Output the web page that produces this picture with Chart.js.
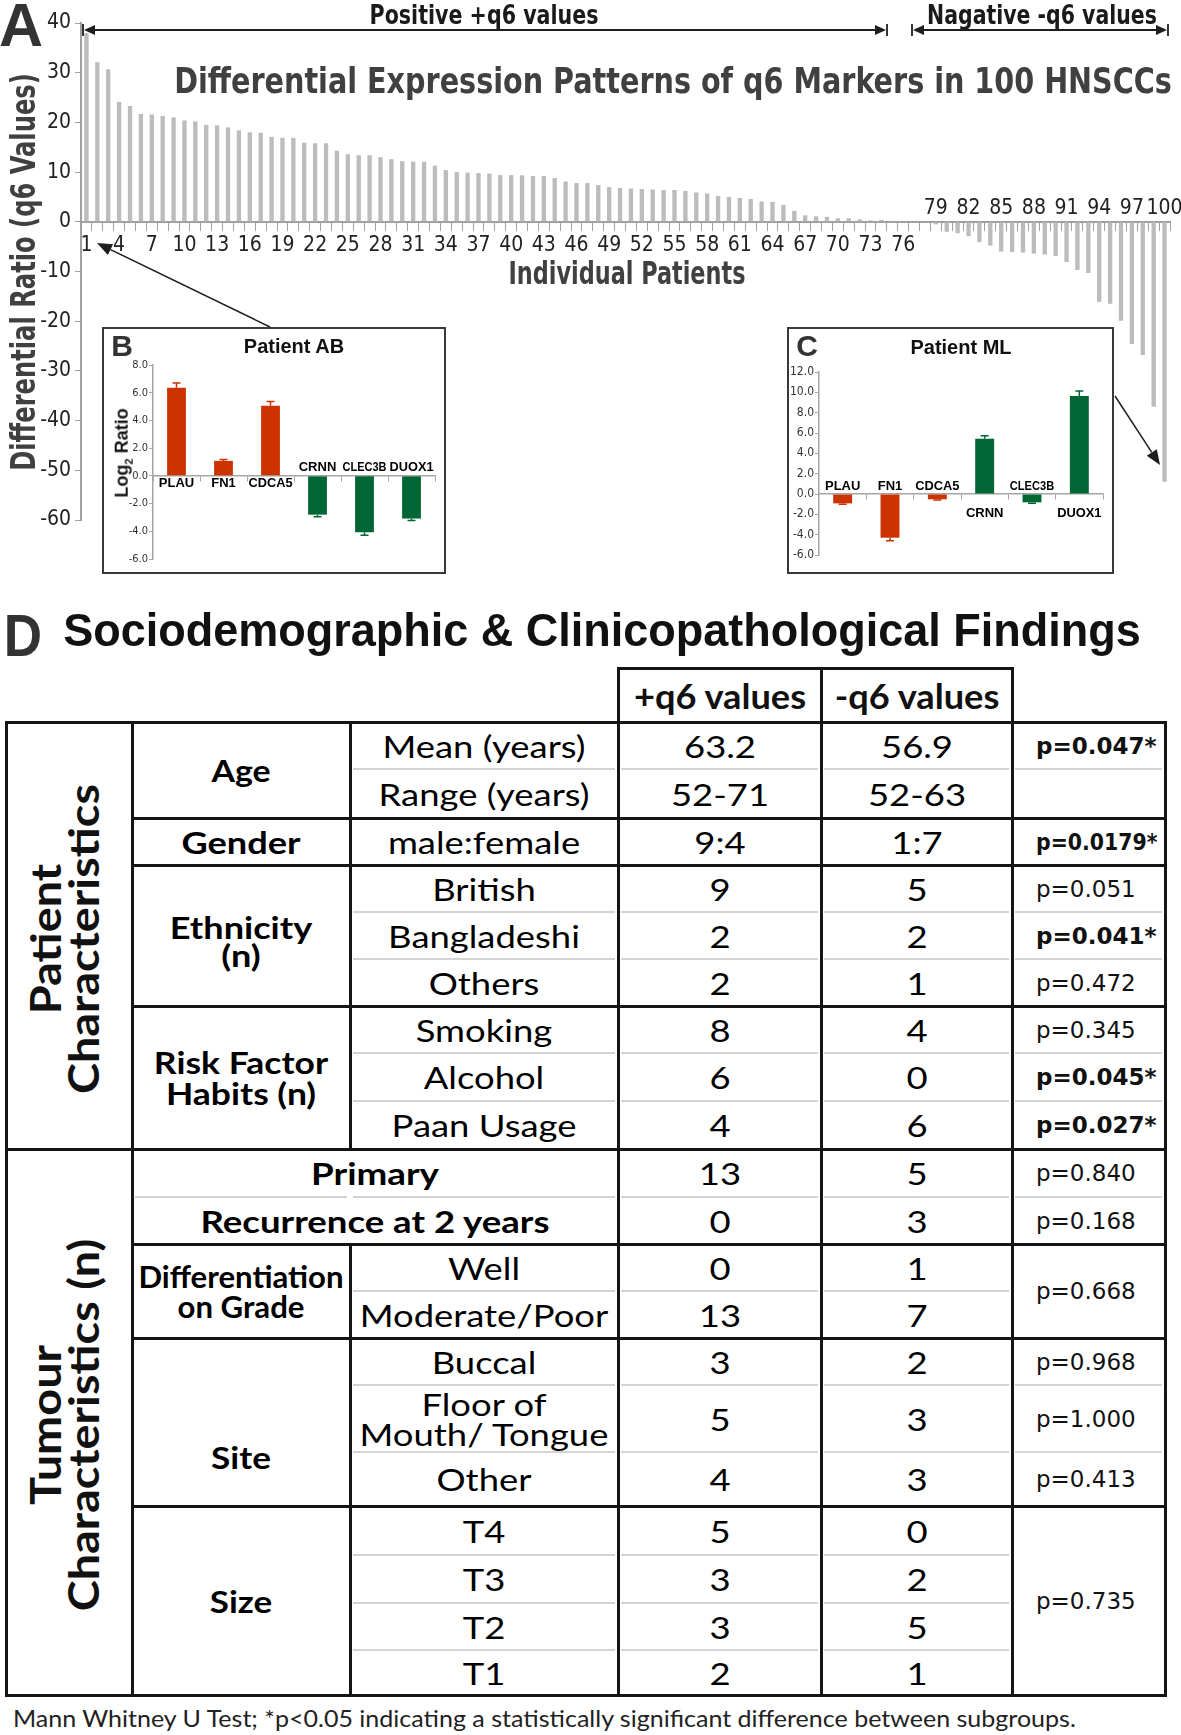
<!DOCTYPE html>
<html>
<head>
<meta charset="utf-8">
<title>Differential Expression Patterns of q6 Markers in 100 HNSCCs</title>
<script src="https://cdn.jsdelivr.net/npm/chart.js@4.4.1/dist/chart.umd.min.js"></script>
<style>
  html, body { margin: 0; padding: 0; background: #fff; }
  #page { position: relative; width: 1181px; height: 1735px; overflow: hidden; background: #fff; }
  .t { position: absolute; white-space: nowrap; line-height: 1; text-align: center; }
  .box { position: absolute; border: 2px solid #3a3a3a; background: #fff; }
  .ln { position: absolute; }
  canvas { display: block; }
</style>
</head>
<body>
<div id="page">
  <canvas id="mainChart" width="1181" height="540" style="position:absolute;left:0;top:0;width:1181px;height:540px"></canvas>
  <div class="box" style="left:102px;top:327px;width:340px;height:243px">
    <canvas id="chartAB" width="340" height="243" style="width:340px;height:243px"></canvas>
  </div>
  <div class="box" style="left:787px;top:327px;width:323px;height:243px">
    <canvas id="chartML" width="323" height="243" style="width:323px;height:243px"></canvas>
  </div>
</div>

<script>
// ---- panel A : q6 value of every patient, sorted ----
var patients = [];
for (var n = 1; n <= 100; n++) patients.push(String(n));

var q6Values = [
  38.0, 32.1, 30.7, 24.1, 23.3, 21.7, 21.6, 21.3, 21.0, 20.4,
  20.2, 19.5, 19.4, 19.0, 18.4, 18.0, 17.9, 17.1, 16.9, 16.9,
  15.9, 15.8, 15.8, 14.3, 13.6, 13.4, 13.4, 13.0, 12.6, 12.2,
  12.1, 12.1, 11.3, 10.4, 10.0, 9.9, 9.8, 9.7, 9.4, 9.4,
  9.35, 9.2, 9.2, 8.8, 8.1, 7.8, 7.8, 7.4, 7.0, 6.8,
  6.7, 6.6, 6.5, 6.4, 6.4, 6.2, 5.9, 5.7, 5.2, 5.0,
  4.8, 4.6, 4.1, 4.0, 3.4, 2.2, 1.3, 1.1, 1.0, 0.7,
  0.7, 0.5, 0.3, 0.4, 0.2, 0.1, 0.0, -0.1, -0.5, -2.0,
  -2.3, -2.9, -4.1, -4.8, -6.0, -6.1, -6.2, -6.4, -6.6, -6.9,
  -8.1, -9.7, -10.3, -16.1, -16.5, -19.9, -24.6, -26.8, -37.2, -52.3
];
var lastPositiveLabel = 76; // labels 1..76 sit under the axis, 79..100 above it

// ---- panels B and C : log2 ratio of the six markers ----
var genes = ["PLAU", "FN1", "CDCA5", "CRNN", "CLEC3B", "DUOX1"];
var geneColors = ["#cc3300", "#cc3300", "#cc3300", "#006633", "#006633", "#006633"];
var patientAB = [6.36, 1.08, 5.06, -2.8, -4.07, -3.08];
var patientABErr = [0.35, 0.1, 0.3, 0.16, 0.22, 0.14];
var patientML = [-0.92, -4.3, -0.52, 5.44, -0.82, 9.64];
var patientMLErr = [0.08, 0.3, 0.08, 0.3, 0.08, 0.5];

// ---- panel D : table ----
var rowLabels = ["Mean (years)", "Range (years)", "male:female", "British", "Bangladeshi", "Others",
  "Smoking", "Alcohol", "Paan Usage", "", "", "Well", "Moderate/Poor", "Buccal",
  "Floor of<br>Mouth/ Tongue", "Other", "T4", "T3", "T2", "T1"];
var posQ6 = ["63.2", "52-71", "9:4", "9", "2", "2", "8", "6", "4", "13", "0", "0", "13", "3", "5", "4", "5", "3", "3", "2"];
var negQ6 = ["56.9", "52-63", "1:7", "5", "2", "1", "4", "0", "6", "5", "3", "1", "7", "2", "3", "3", "0", "2", "5", "1"];
var pValues = [
  { text: "p=0.047*", from: 0, to: 1, bold: true },
  { text: "p=0.0179*", from: 2, to: 3, bold: true },
  { text: "p=0.051", from: 3, to: 4 },
  { text: "p=0.041*", from: 4, to: 5, bold: true },
  { text: "p=0.472", from: 5, to: 6 },
  { text: "p=0.345", from: 6, to: 7 },
  { text: "p=0.045*", from: 7, to: 8, bold: true },
  { text: "p=0.027*", from: 8, to: 9, bold: true },
  { text: "p=0.840", from: 9, to: 10 },
  { text: "p=0.168", from: 10, to: 11 },
  { text: "p=0.668", from: 11, to: 13 },
  { text: "p=0.968", from: 13, to: 14 },
  { text: "p=1.000", from: 14, to: 15 },
  { text: "p=0.413", from: 15, to: 16 },
  { text: "p=0.735", from: 16, to: 20 }
];
var groupLabels = [
  { text: "Age", from: 0, to: 2, w: 59 },
  { text: "Gender", from: 2, to: 3, w: 119 },
  { text: "Ethnicity<br>(n)", from: 3, to: 6, lh: 28, dy: 5, w: 142 },
  { text: "Risk Factor<br>Habits (n)", from: 6, to: 9, lh: 31, w: 174 },
  { text: "Primary", from: 9, to: 10, wide: true, w: 128 },
  { text: "Recurrence at 2 years", from: 10, to: 11, wide: true, w: 349 },
  { text: "Differentiation<br>on Grade", from: 11, to: 13, lh: 30, w: 205 },
  { text: "Site", from: 13, to: 16, dy: 35, w: 60 },
  { text: "Size", from: 16, to: 20, w: 62 }
];
var sections = [
  { text: "Patient<br>Characteristics", from: 0, to: 9 },
  { text: "Tumour<br>Characteristics (n)", from: 9, to: 20 }
];

// table geometry (page pixels)
var rowEdges = [722, 769, 818, 865, 912, 959, 1006, 1053, 1101, 1149, 1197, 1244, 1291, 1338, 1385, 1452, 1506, 1555, 1603, 1650, 1695];
var colEdges = [6, 132, 350, 618, 821, 1012, 1165];

var NARROW = '"Liberation Sans Narrow", "DejaVu Sans Condensed", "Arial Narrow", sans-serif';
var ARIAL = '"Liberation Sans", Arial, sans-serif';
var page = document.getElementById("page");
var mctx = document.createElement("canvas").getContext("2d");

function textW(str, font) {
  mctx.font = font;
  return mctx.measureText(str).width;
}

// absolute text, centred on (x, y) unless align is left
function addText(html, x, y, o) {
  var el = document.createElement("div");
  el.className = "t";
  el.innerHTML = html;
  el.style.font = o.font;
  el.style.color = o.color || "#000";
  el.style.left = x + "px";
  el.style.top = y + "px";
  if (o.lh) el.style.lineHeight = o.lh + "px";
  page.appendChild(el);
  var k = o.k || 1;
  if (o.w) k = o.w / el.offsetWidth;
  if (o.maxW && el.offsetWidth > o.maxW) k = o.maxW / el.offsetWidth;
  var left = o.align === "left";
  el.style.transformOrigin = left ? "left center" : "center center";
  el.style.transform = "translate(" + (left ? "0" : "-50%") + ",-50%)" +
    (o.rot ? " rotate(" + o.rot + "deg)" : "") + " scaleX(" + k + ")";
  return el;
}

function line(x1, y1, x2, y2, w, color) {
  var el = document.createElement("div");
  el.className = "ln";
  el.style.background = color;
  el.style.left = x1 - w / 2 + "px";
  el.style.top = y1 - w / 2 + "px";
  if (y1 === y2) {
    el.style.width = x2 - x1 + w + "px";
    el.style.height = w + "px";
  } else {
    el.style.width = w + "px";
    el.style.height = y2 - y1 + w + "px";
  }
  page.appendChild(el);
}

// ---------------- main chart ----------------
var upperLabels = {
  id: "upperLabels",
  afterDraw: function (chart) {
    var ctx = chart.ctx, x = chart.scales.x, y = chart.scales.y;
    ctx.save();
    ctx.font = "21px " + NARROW;
    ctx.fillStyle = "#222";
    ctx.textAlign = "center";
    ctx.textBaseline = "middle";
    for (var i = lastPositiveLabel + 2; i < patients.length; i += 3) {
      ctx.fillText(patients[i], x.getPixelForValue(i), y.getPixelForValue(0) - 13);
    }
    ctx.restore();
  }
};

new Chart(document.getElementById("mainChart"), {
  type: "bar",
  data: {
    labels: patients,
    datasets: [{
      data: q6Values,
      backgroundColor: "#bcbcbc",
      barPercentage: 0.4,
      categoryPercentage: 1
    }]
  },
  options: {
    responsive: false,
    animation: false,
    layout: { padding: { top: 23, right: 11, bottom: 20, left: 0 } },
    plugins: { legend: { display: false }, tooltip: { enabled: false } },
    scales: {
      x: {
        position: { y: 0 },
        offset: true,
        grid: { drawOnChartArea: false, offset: true, tickLength: 8, color: "#a0a0a0" },
        border: { color: "#a0a0a0", width: 2 },
        ticks: {
          autoSkip: false,
          maxRotation: 0,
          padding: 3,
          color: "#222",
          font: { family: NARROW, size: 21 },
          callback: function (v, i) {
            return (i < lastPositiveLabel && i % 3 === 0) ? patients[i] : "";
          }
        }
      },
      y: {
        min: -60,
        max: 40,
        grid: { drawOnChartArea: false, tickLength: 6, color: "#a0a0a0" },
        border: { color: "#a0a0a0", width: 2 },
        ticks: { stepSize: 10, padding: 4, color: "#222", font: { family: NARROW, size: 21 } },
        afterFit: function (s) { s.width = 81; }
      }
    }
  },
  plugins: [upperLabels]
});

// ---------------- insets B and C ----------------
var errorBars = {
  id: "errorBars",
  afterDatasetsDraw: function (chart, args, opts) {
    var ctx = chart.ctx, y = chart.scales.y;
    var meta = chart.getDatasetMeta(0);
    var vals = chart.data.datasets[0].data;
    ctx.save();
    ctx.lineWidth = 1.5;
    vals.forEach(function (v, i) {
      var xp = meta.data[i].x;
      var y0 = y.getPixelForValue(v);
      var y1 = y.getPixelForValue(v + (v >= 0 ? 1 : -1) * opts.errors[i]);
      ctx.strokeStyle = geneColors[i];
      ctx.beginPath();
      ctx.moveTo(xp, y0); ctx.lineTo(xp, y1);
      ctx.moveTo(xp - 4, y1); ctx.lineTo(xp + 4, y1);
      ctx.stroke();
    });
    ctx.restore();
  }
};

var geneLabels = {
  id: "geneLabels",
  afterDraw: function (chart, args, opts) {
    var ctx = chart.ctx, x = chart.scales.x, y = chart.scales.y;
    var vals = chart.data.datasets[0].data;
    var y0 = y.getPixelForValue(0);
    var slot = x.width / chart.data.labels.length;
    ctx.save();
    ctx.font = "bold 13px " + ARIAL;
    ctx.fillStyle = "#000";
    ctx.textAlign = "center";
    ctx.textBaseline = "middle";
    chart.data.labels.forEach(function (lab, i) {
      ctx.fillText(lab, x.getPixelForValue(i), y0 + (vals[i] >= 0 ? opts.below : opts.above), slot - 3);
    });
    ctx.restore();
  }
};

function insetChart(id, values, errors, yMin, yMax, axisW, pad, tickSize, below) {
  return new Chart(document.getElementById(id), {
    type: "bar",
    data: {
      labels: genes,
      datasets: [{
        data: values,
        backgroundColor: geneColors,
        barPercentage: 0.4,
        categoryPercentage: 1
      }]
    },
    options: {
      responsive: false,
      animation: false,
      layout: { padding: pad },
      plugins: {
        legend: { display: false },
        tooltip: { enabled: false },
        errorBars: { errors: errors },
        geneLabels: { below: below, above: -8 }
      },
      scales: {
        x: {
          position: { y: 0 },
          offset: true,
          grid: { drawOnChartArea: false, offset: true, tickLength: 5, color: "#a6a6a6" },
          border: { color: "#a6a6a6", width: 1.5 },
          ticks: { display: false }
        },
        y: {
          min: yMin,
          max: yMax,
          grid: { drawOnChartArea: false, tickLength: 4, color: "#a6a6a6" },
          border: { color: "#a6a6a6", width: 1.5 },
          ticks: {
            stepSize: 2,
            padding: 1,
            color: "#333",
            font: { family: NARROW, size: tickSize },
            callback: function (v) { return v.toFixed(1); }
          },
          afterFit: function (s) { s.width = axisW; }
        }
      }
    },
    plugins: [errorBars, geneLabels]
  });
}

insetChart("chartAB", patientAB, patientABErr, -6, 8, 49, { top: 36, right: 9, bottom: 13, left: 0 }, 11, 8);
insetChart("chartML", patientML, patientMLErr, -6, 12, 30, { top: 43, right: 9, bottom: 17, left: 0 }, 12, 19);

// ---------------- panel A texts and arrows ----------------
addText("A", 21, 25, { font: "700 61px " + ARIAL, w: 44, color: "#333" });
addText("Positive +q6 values", 484, 14, { font: "700 27px " + NARROW, w: 229, color: "#1a1a1a" });
addText("Nagative -q6 values", 1042, 14, { font: "700 27px " + NARROW, w: 230, color: "#1a1a1a" });
addText("Differential Expression Patterns of q6 Markers in 100 HNSCCs", 673, 81,
  { font: "700 35px " + NARROW, w: 998, color: "#404040" });
addText("Individual Patients", 627, 273, { font: "700 32px " + NARROW, w: 237, color: "#404040" });
addText("Differential Ratio (q6 Values)", 23, 272, { font: "700 33px " + NARROW, w: 398, rot: -90, color: "#404040" });

addText("B", 122, 346, { font: "700 30px " + ARIAL, color: "#333" });
addText("Patient AB", 294, 346, { font: "700 20px " + ARIAL, color: "#111" });
addText("Log<sub style='font-size:11px'>2</sub> Ratio", 123, 453, { font: "700 18px " + ARIAL, rot: -90, color: "#111" });
addText("C", 807, 346, { font: "700 30px " + ARIAL, color: "#333" });
addText("Patient ML", 961, 347, { font: "700 20px " + ARIAL, color: "#111" });

var svgNS = "http://www.w3.org/2000/svg";
var svg = document.createElementNS(svgNS, "svg");
svg.setAttribute("width", "1181");
svg.setAttribute("height", "600");
svg.style.cssText = "position:absolute;left:0;top:0;pointer-events:none";
page.appendChild(svg);

function svgEl(tag, attrs) {
  var e = document.createElementNS(svgNS, tag);
  for (var a in attrs) e.setAttribute(a, attrs[a]);
  svg.appendChild(e);
  return e;
}
function arrow(x1, y1, x2, y2, headLen, headW, width) {
  var dx = x2 - x1, dy = y2 - y1, len = Math.sqrt(dx * dx + dy * dy);
  var ux = dx / len, uy = dy / len;
  var bx = x2 - ux * headLen, by = y2 - uy * headLen;
  svgEl("line", { x1: x1, y1: y1, x2: bx, y2: by, stroke: "#1e1e1e", "stroke-width": width });
  svgEl("polygon", {
    points: x2 + "," + y2 + " " + (bx - uy * headW) + "," + (by + ux * headW) + " " + (bx + uy * headW) + "," + (by - ux * headW),
    fill: "#1e1e1e"
  });
}
function bracket(xa, xb, y) {
  svgEl("line", { x1: xa, y1: y - 6, x2: xa, y2: y + 6, stroke: "#1e1e1e", "stroke-width": 1.8 });
  svgEl("line", { x1: xb, y1: y - 6, x2: xb, y2: y + 6, stroke: "#1e1e1e", "stroke-width": 1.8 });
  arrow((xa + xb) / 2, y, xa + 1, y, 11, 5, 1.8);
  arrow((xa + xb) / 2, y, xb - 1, y, 11, 5, 1.8);
}
bracket(83, 887, 30);
bracket(912, 1168, 30);
arrow(270, 327, 97, 243, 15, 6, 1.5);
arrow(1115, 396, 1160, 465, 15, 6, 1.5);

// ---------------- panel D ----------------
addText("D", 23, 635, { font: "700 60px " + ARIAL, w: 38, color: "#333" });
addText("Sociodemographic &amp; Clinicopathological Findings", 602, 630,
  { font: "700 46px " + ARIAL, w: 1078, color: "#111" });

var F_REG = "400 31px Lato";
var F_BOLD = "700 31px Lato";
var F_HEAD = "700 34px Lato";
var F_SEC = "700 42px Lato";
var F_P = '400 23px "DejaVu Sans"';
var F_PB = '700 23px "DejaVu Sans"';
var kReg = 203 / textW("Mean (years)", F_REG);
var kHead = 173 / textW("+q6 values", F_HEAD);
var kSec = 310 / textW("Characteristics", F_SEC);

function rowMid(a, b) { return (rowEdges[a] + rowEdges[b]) / 2; }
var BLACK = "#151515", LIGHT = "#d4d4d4";

// light separators inside groups, split at each column border
function lightLine(y, xa, xb) {
  for (var c = 0; c < colEdges.length - 1; c++) {
    var l = Math.max(xa, colEdges[c]), r = Math.min(xb, colEdges[c + 1]);
    if (r > l) line(l + 4, y, r - 4, y, 2, LIGHT);
  }
}
var blackRows = [2, 3, 6, 11, 13, 16];
var lightRows = [
  { r: 1, a: 2, b: 6 }, { r: 4, a: 2, b: 6 }, { r: 5, a: 2, b: 6 }, { r: 7, a: 2, b: 6 }, { r: 8, a: 2, b: 6 },
  { r: 10, a: 1, b: 6 }, { r: 12, a: 2, b: 5 }, { r: 14, a: 2, b: 6 }, { r: 15, a: 2, b: 6 },
  { r: 17, a: 2, b: 5 }, { r: 18, a: 2, b: 5 }, { r: 19, a: 2, b: 5 }
];
lightRows.forEach(function (s) { lightLine(rowEdges[s.r], colEdges[s.a], colEdges[s.b]); });

// borders
var tableTop = rowEdges[0], tableBottom = rowEdges[rowEdges.length - 1];
[0, 9, 20].forEach(function (r) { line(colEdges[0], rowEdges[r], colEdges[6], rowEdges[r], 3, BLACK); });
blackRows.forEach(function (r) { line(colEdges[1], rowEdges[r], colEdges[6], rowEdges[r], 3, BLACK); });
line(colEdges[3], 668, colEdges[5], 668, 3, BLACK);
line(colEdges[0], tableTop, colEdges[0], tableBottom, 3, BLACK);
line(colEdges[1], tableTop, colEdges[1], tableBottom, 3, BLACK);
line(colEdges[2], tableTop, colEdges[2], rowEdges[9], 3, BLACK);
line(colEdges[2], rowEdges[11], colEdges[2], tableBottom, 3, BLACK);
[3, 4, 5].forEach(function (c) { line(colEdges[c], 668, colEdges[c], tableBottom, 3, BLACK); });
line(colEdges[6], tableTop, colEdges[6], tableBottom, 3, BLACK);

// header
addText("+q6 values", (colEdges[3] + colEdges[4]) / 2, 695, { font: F_HEAD, k: kHead, color: "#111" });
addText("-q6 values", (colEdges[4] + colEdges[5]) / 2, 695, { font: F_HEAD, k: kHead, color: "#111" });

// section labels (rotated)
sections.forEach(function (s) {
  addText(s.text, 64, rowMid(s.from, s.to) + 3, { font: F_SEC, k: kSec, rot: -90, lh: 38, color: "#111" });
});

// group labels
groupLabels.forEach(function (g) {
  var x = g.wide ? (colEdges[1] + colEdges[3]) / 2 : (colEdges[1] + colEdges[2]) / 2;
  addText(g.text, x, rowMid(g.from, g.to) + (g.dy || 0), { font: F_BOLD, w: g.w, lh: g.lh, color: "#000" });
});

// rows
for (var r = 0; r < rowLabels.length; r++) {
  var cy = rowMid(r, r + 1);
  if (rowLabels[r]) addText(rowLabels[r], (colEdges[2] + colEdges[3]) / 2, cy, { font: F_REG, k: kReg, lh: 30 });
  addText(posQ6[r], (colEdges[3] + colEdges[4]) / 2, cy, { font: F_REG, k: kReg });
  addText(negQ6[r], (colEdges[4] + colEdges[5]) / 2, cy, { font: F_REG, k: kReg });
}
pValues.forEach(function (p) {
  addText(p.text, 1036, rowMid(p.from, p.to), { font: p.bold ? F_PB : F_P, align: "left", maxW: 122, color: "#111" });
});

addText("Mann Whitney U Test; *p&lt;0.05 indicating a statistically significant difference between subgroups.",
  13, 1718, { font: "400 23px Lato", w: 1063, align: "left", color: "#222" });
</script>
</body>
</html>
